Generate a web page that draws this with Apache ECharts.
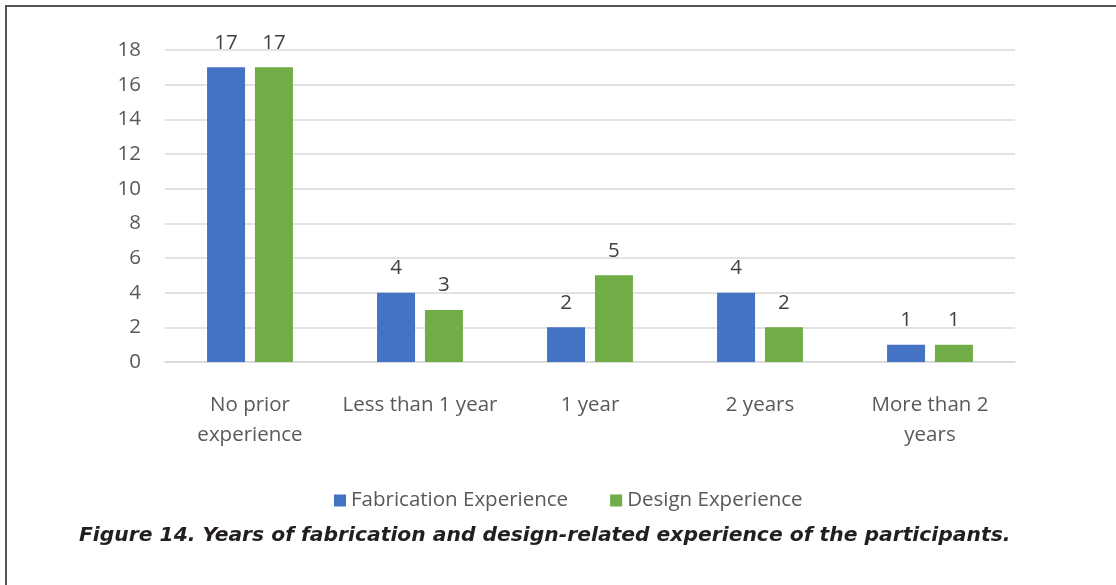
<!DOCTYPE html>
<html>
<head>
<meta charset="utf-8">
<script src="https://cdn.jsdelivr.net/npm/echarts@6/dist/echarts.min.js"></script>
<style>
  html, body { margin: 0; padding: 0; background: #fff; }
  #frame {
    position: absolute; left: 5px; top: 5px; width: 1111px; height: 580px;
    border-top: 2px solid #555; border-left: 2px solid #555; box-sizing: border-box;
  }
  #chart { position: absolute; left: 0; top: 0; width: 1116px; height: 585px; }
</style>
</head>
<body>
<div id="frame"></div>
<div id="chart"></div>
<script>
// Experience categories along the x axis
const categories = ['No prior\nexperience', 'Less than 1 year', '1 year', '2 years', 'More than 2\nyears'];
// Participant counts per category
const fabrication = [17, 4, 2, 4, 1];
const design = [17, 3, 5, 2, 1];
const seriesNames = ['Fabrication Experience', 'Design Experience'];
const yTicks = { min: 0, max: 18, interval: 2 };
const caption = 'Figure 14. Years of fabrication and design-related experience of the participants.';

const textFont = 'Open Sans';
const labelColor = '#595959';

const chart = echarts.init(document.getElementById('chart'), null, { renderer: 'canvas' });

const valueLabel = {
  show: true, position: 'top', distance: 14,
  fontFamily: textFont, fontSize: 20.5, color: '#404040'
};

chart.setOption({
  animation: false,
  backgroundColor: 'transparent',
  title: {
    text: caption,
    left: 74, top: 521,
    textStyle: {
      fontFamily: 'DejaVu Sans', fontStyle: 'italic', fontWeight: 'bold',
      fontSize: 20.3, color: '#231f20'
    }
  },
  legend: {
    data: seriesNames,
    left: 329, top: 485,
    itemWidth: 12, itemHeight: 12, itemGap: 42,
    icon: 'rect',
    textStyle: { fontFamily: textFont, fontSize: 20.5, color: labelColor }
  },
  grid: { left: 165, right: 101, top: 50, bottom: 223, containLabel: false },
  xAxis: {
    type: 'category',
    data: categories,
    axisLine: { lineStyle: { color: '#d9d9d9', width: 1.5 } },
    axisTick: { show: false },
    axisLabel: {
      fontFamily: textFont, fontSize: 20.5, color: labelColor,
      margin: 28, lineHeight: 30, interval: 0
    }
  },
  yAxis: {
    type: 'value',
    min: yTicks.min, max: yTicks.max, interval: yTicks.interval,
    axisLine: { show: false },
    axisTick: { show: false },
    splitLine: { lineStyle: { color: '#d9d9d9', width: 1.5 } },
    axisLabel: { fontFamily: textFont, fontSize: 20.5, color: labelColor, margin: 24 }
  },
  series: [
    {
      name: seriesNames[0], type: 'bar', data: fabrication,
      barWidth: 38, barGap: '26%',
      itemStyle: { color: '#4472c4' },
      label: valueLabel
    },
    {
      name: seriesNames[1], type: 'bar', data: design,
      barWidth: 38,
      itemStyle: { color: '#70ad47' },
      label: valueLabel
    }
  ]
});
</script>
</body>
</html>
